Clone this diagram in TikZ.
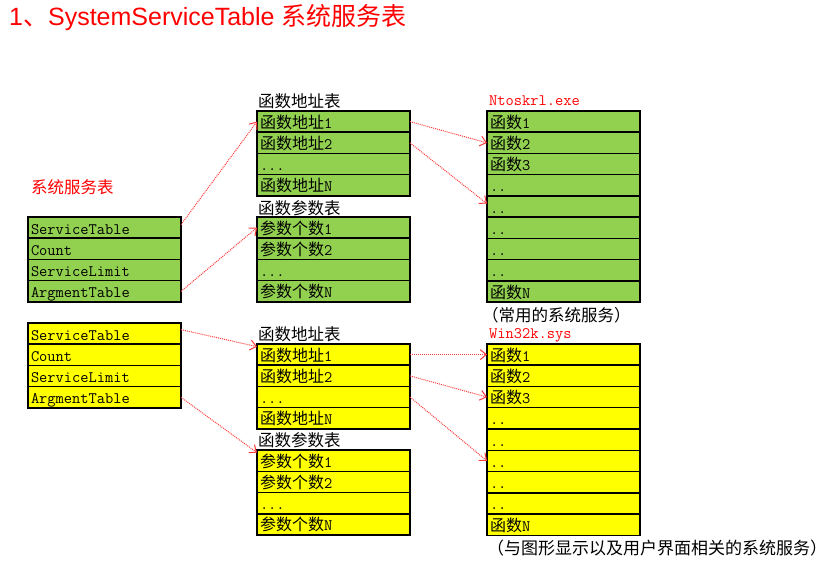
\documentclass[tikz,border=0pt]{standalone}
\usepackage{fontspec}
\newfontfamily\cjk{Noto Sans CJK SC}
\newfontfamily\cjktitle{Noto Sans CJK SC}
\newfontfamily\titlefont{Liberation Sans}
\newcommand{\zh}[1]{{\cjk #1}}
\newcommand{\twodot}{..}
\newcommand{\threedot}{...}
\usetikzlibrary{arrows.meta}
\definecolor{cellgreen}{HTML}{92D050}
\definecolor{cellyellow}{HTML}{FFFF00}
\definecolor{linkred}{HTML}{FF3B3B}
\tikzset{
  cell/.style={draw, line width=1.5pt, anchor=north west, outer sep=0pt,
    inner xsep=3pt, inner ysep=0pt, text width=147pt, align=left,
    minimum height=21.25pt, text height=14pt, text depth=1pt,
    font=\ttfamily\fontsize{16}{18}\selectfont},
  caption/.style={anchor=west, inner sep=0pt, font=\cjktitle\fontsize{16.5}{18}\selectfont},
  link/.style={-{Straight Barb[length=6pt,width=10pt]}, linkred, densely dotted, line width=1pt}
}
\begin{document}
\begin{tikzpicture}[x=1pt, y=-1pt]
    \useasboundingbox (0,0) rectangle (831,564);
    \node[anchor=base west, inner sep=0pt, text=red, font=\titlefont\fontsize{25}{30}\selectfont] (title) at (9,26)
        {1{\cjktitle 、}SystemServiceTable {\cjktitle 系统服务表}};

    % Green: system service table
    \node[caption, text=red] (gname) at (31,187) {系统服务表};
    \foreach \t [count=\i] in {ServiceTable, Count, ServiceLimit, ArgmentTable}
        \node[cell, fill=cellgreen] (gs\i) at (28,{217+21.25*(\i-1)}) {\t};

    % Green: address and argument tables
    \node[caption] (gatitle) at (258,101) {函数地址表};
    \foreach \t [count=\i] in {\zh{函数地址}1, \zh{函数地址}2, \threedot, \zh{函数地址}N}
        \node[cell, fill=cellgreen] (ga\i) at (257,{111+21.25*(\i-1)}) {\t};
    \node[caption] (gptitle) at (258,208) {函数参数表};
    \foreach \t [count=\i] in {\zh{参数个数}1, \zh{参数个数}2, \threedot, \zh{参数个数}N}
        \node[cell, fill=cellgreen] (gp\i) at (257,{217+21.25*(\i-1)}) {\t};

    % Green: Ntoskrl.exe
    \node[anchor=west, inner sep=0pt, text=red, font=\ttfamily\fontsize{16}{18}\selectfont] (gnname) at (489,101) {Ntoskrl.exe};
    \foreach \t [count=\i] in {\zh{函数}1, \zh{函数}2, \zh{函数}3, \twodot, \twodot, \twodot, \twodot, \twodot, \zh{函数}N}
        \node[cell, fill=cellgreen] (gn\i) at (487,{111+21.25*(\i-1)}) {\t};
    \node[caption] (gnnote) at (482,315) {（常用的系统服务）};

    % Yellow: system service table
    \foreach \t [count=\i] in {ServiceTable, Count, ServiceLimit, ArgmentTable}
        \node[cell, fill=cellyellow] (ys\i) at (28,{323+21.25*(\i-1)}) {\t};

    % Yellow: address and argument tables
    \node[caption] (yatitle) at (258,334) {函数地址表};
    \foreach \t [count=\i] in {\zh{函数地址}1, \zh{函数地址}2, \threedot, \zh{函数地址}N}
        \node[cell, fill=cellyellow] (ya\i) at (257,{344+21.25*(\i-1)}) {\t};
    \node[caption] (yptitle) at (258,440) {函数参数表};
    \foreach \t [count=\i] in {\zh{参数个数}1, \zh{参数个数}2, \threedot, \zh{参数个数}N}
        \node[cell, fill=cellyellow] (yp\i) at (257,{450+21.25*(\i-1)}) {\t};

    % Yellow: Win32k.sys
    \node[anchor=west, inner sep=0pt, text=red, font=\ttfamily\fontsize{16}{18}\selectfont] (ywname) at (489,335) {Win32k.sys};
    \foreach \t [count=\i] in {\zh{函数}1, \zh{函数}2, \zh{函数}3, \twodot, \twodot, \twodot, \twodot, \twodot, \zh{函数}N}
        \node[cell, fill=cellyellow] (yw\i) at (487,{344+21.25*(\i-1)}) {\t};
    \node[caption, font=\cjktitle\fontsize{17}{18}\selectfont] (ywnote) at (487,548) {（与图形显示以及用户界面相关的系统服务）};

    % Links
    \draw[link] ([yshift=3pt]gs1.east) -- (ga1.west);
    \draw[link] (gs4.east) -- (gp1.west);
    \draw[link] (ga1.east) -- (gn2.west);
    \draw[link] (ga2.east) -- ([yshift=3pt]gn5.west);
    \draw[link] ([yshift=4pt]ys1.east) -- ([yshift=8pt]ya1.west);
    \draw[link] (ys4.east) -- ([yshift=8pt]yp1.west);
    \draw[link] (ya1.east) -- (yw1.west);
    \draw[link] (ya2.east) -- (yw3.west);
    \draw[link] (ya3.east) -- (yw6.west);
\end{tikzpicture}
\end{document}
